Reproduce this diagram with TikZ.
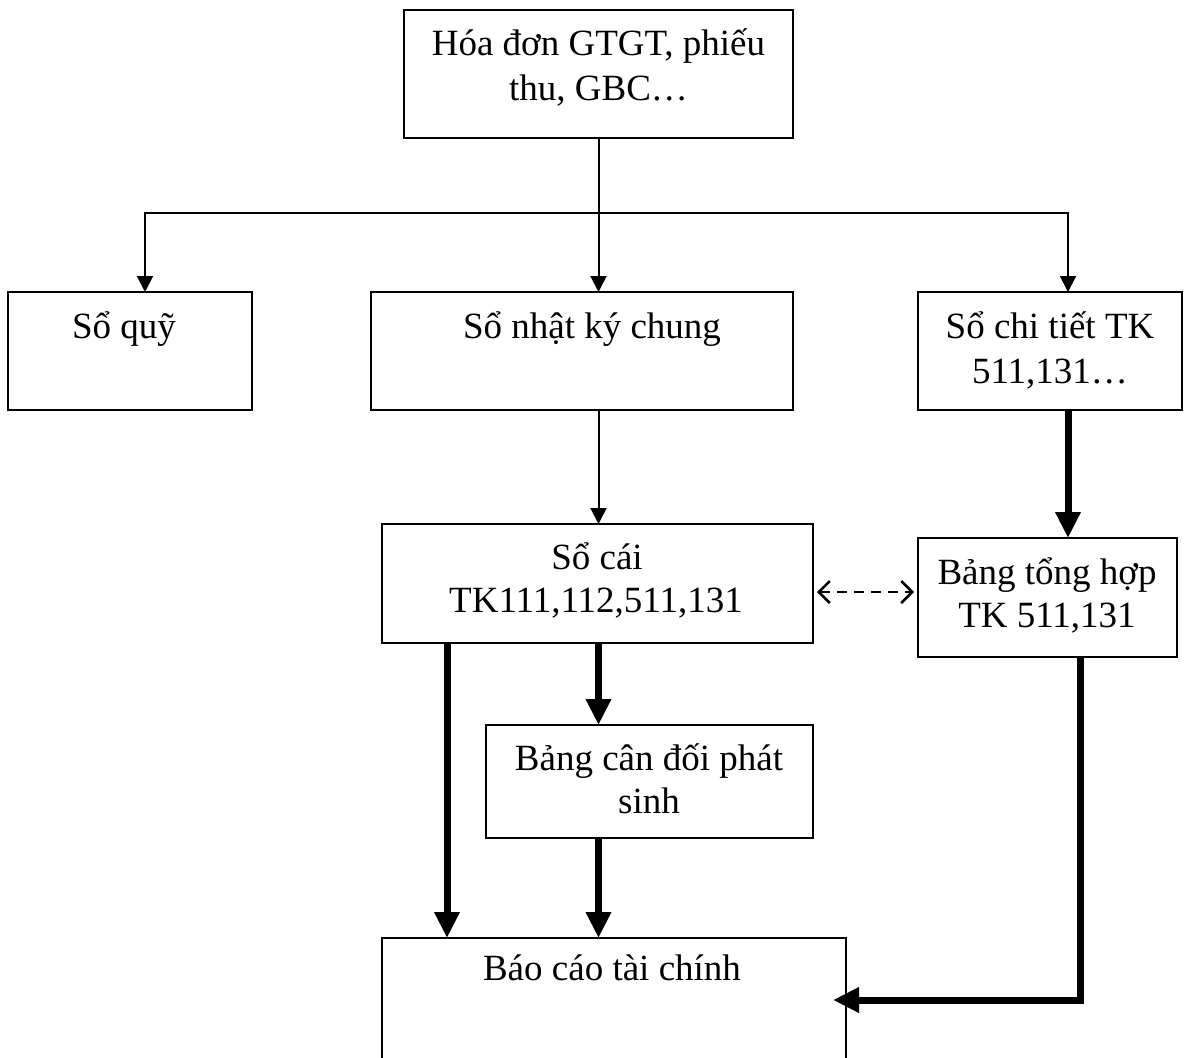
\documentclass[tikz,border=0pt]{standalone}
\usepackage{fontspec}
\setmainfont{Liberation Serif}
\usetikzlibrary{arrows.meta,calc}
\begin{document}
\begin{tikzpicture}[x=1pt,y=-1pt,
  box/.style={draw=black,line width=2pt},
  txt/.style={anchor=base,inner sep=0pt,font=\fontsize{37}{44}\selectfont},
  thin/.style={draw=black,line width=2pt,-{Triangle[length=16pt,width=16pt]}},
  thick/.style={draw=black,line width=7pt,-{Triangle[length=26pt,width=24pt]}},
  dashconn/.style={draw=black,line width=2.2pt,dash pattern=on 10pt off 7pt,{Straight Barb[length=11pt,width=22pt,line width=2.5pt]}-{Straight Barb[length=11pt,width=22pt,line width=2.5pt]}}
]
\useasboundingbox (0,0) rectangle (1192,1058);
% boxes
\draw[box] (404,10) rectangle (793,138);
\coordinate (hd) at (598.5,138);
\draw[box] (8,292) rectangle (252,410);
\coordinate (sq) at (145,292);
\draw[box] (371,292) rectangle (793,410);
\coordinate (nk) at (598.5,292);
\coordinate (nkb) at (598.5,410);
\draw[box] (918,292) rectangle (1182,410);
\coordinate (ct) at (1068,292);
\coordinate (ctb) at (1068,410);
\draw[box] (382,524) rectangle (813,643);
\coordinate (sc) at (598.5,524);
\coordinate (scr) at (813,592);
\coordinate (scb1) at (447,643);
\coordinate (scb2) at (598.5,643);
\draw[box] (918,538) rectangle (1177,657);
\coordinate (th) at (1068,538);
\coordinate (thl) at (918,592);
\coordinate (thb) at (1080,657);
\draw[box] (486,725) rectangle (813,838);
\coordinate (cd) at (598.5,725);
\coordinate (cdb) at (598.5,838);
\draw[box] (382,938) rectangle (846,1070);
\coordinate (bc1) at (447,938);
\coordinate (bc2) at (598.5,938);
\coordinate (bcr) at (833,1000);
% texts
\node[txt] (t1) at (598.5,55) {Hóa đơn GTGT, phiếu};
\node[txt] (t2) at (598.5,100) {thu, GBC…};
\node[txt] (t3) at (124,338) {Sổ quỹ};
\node[txt] (t4) at (592,338) {Sổ nhật ký chung};
\node[txt] (t5) at (1050,338) {Sổ chi tiết TK};
\node[txt] (t6) at (1050,383) {511,131…};
\node[txt] (t7) at (597,569) {Sổ cái};
\node[txt] (t8) at (596,612) {TK111,112,511,131};
\node[txt] (t9) at (1047,584) {Bảng tổng hợp};
\node[txt] (t10) at (1047,627) {TK 511,131};
\node[txt] (t11) at (649,770) {Bảng cân đối phát};
\node[txt] (t12) at (649,813) {sinh};
\node[txt] (t13) at (612,980) {Báo cáo tài chính};
% connectors
\coordinate (j) at (598.5,213);
\coordinate (jl) at (145,213);
\coordinate (jr) at (1068,213);
\draw[line width=2pt] (hd) -- (j);
\draw[thin] (j) -- (jl) -- (sq);
\draw[thin] (j) -- (nk);
\draw[thin] (j) -- (jr) -- (ct);
\draw[thin] (nkb) -- (sc);
\draw[thick] (ctb) -- (th);
\draw[dashconn] ($(scr)+(4,0)$) -- ($(thl)+(-4,0)$);
\draw[thick] (scb1) -- (bc1);
\draw[thick] (scb2) -- (cd);
\draw[thick] (cdb) -- (bc2);
\draw[thick] (thb) -- (thb |- bcr) -- (bcr);
\end{tikzpicture}
\end{document}
